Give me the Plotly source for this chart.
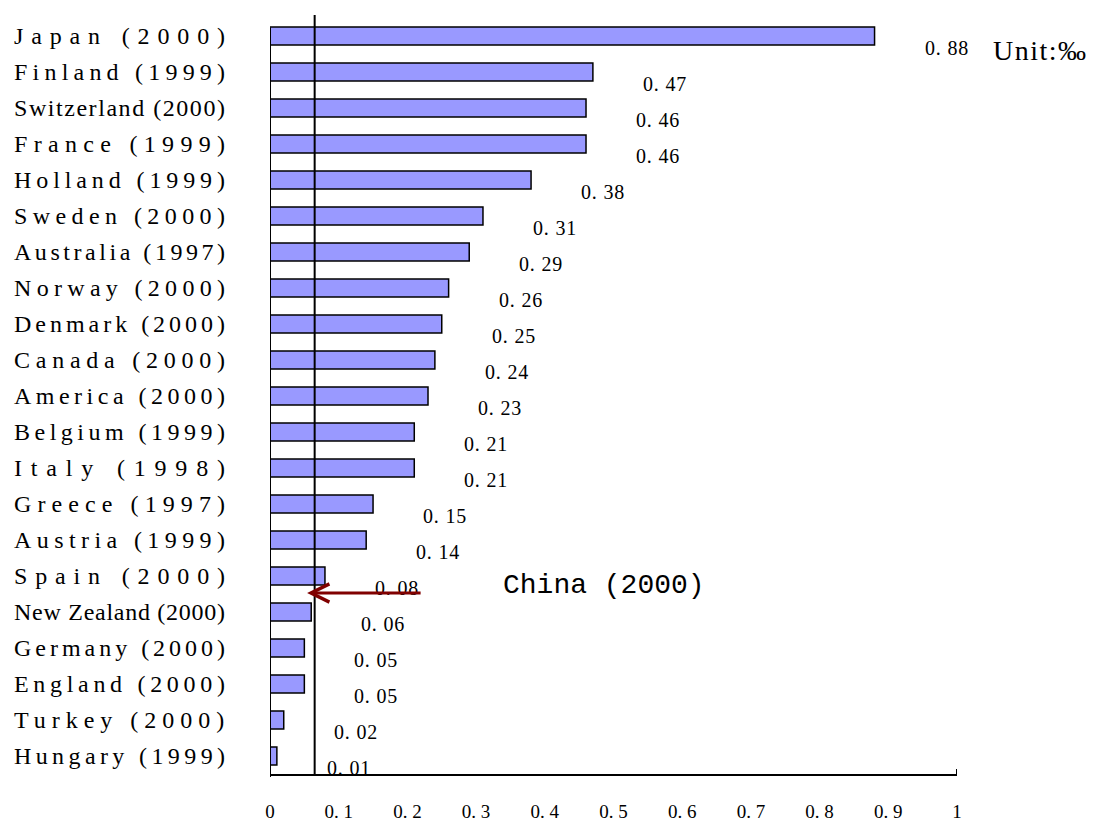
import plotly.graph_objects as go

# Country (survey year) and rate in per mille
categories = [
    "Japan (2000)", "Finland (1999)", "Switzerland (2000)", "France (1999)",
    "Holland (1999)", "Sweden (2000)", "Australia (1997)", "Norway (2000)",
    "Denmark (2000)", "Canada (2000)", "America (2000)", "Belgium (1999)",
    "Italy (1998)", "Greece (1997)", "Austria (1999)", "Spain (2000)",
    "New Zealand (2000)", "Germany (2000)", "England (2000)", "Turkey (2000)",
    "Hungary (1999)",
]
values = [0.88, 0.47, 0.46, 0.46, 0.38, 0.31, 0.29, 0.26, 0.25, 0.24, 0.23,
          0.21, 0.21, 0.15, 0.14, 0.08, 0.06, 0.05, 0.05, 0.02, 0.01]
tick_values = [0, 0.1, 0.2, 0.3, 0.4, 0.5, 0.6, 0.7, 0.8, 0.9, 1]
tick_labels = ["0", "0. 1", "0. 2", "0. 3", "0. 4", "0. 5",
               "0. 6", "0. 7", "0. 8", "0. 9", "1"]
china_value = 0.065
china_label = "China (2000)"
unit_label = "Unit:‰"

SERIF = "Liberation Serif, Times New Roman, serif"
MONO = "Liberation Mono, Courier New, monospace"

# Advance widths (per 1000 em) of Times-metric serif, used to spread the
# category names evenly across a fixed label column.
ADV = {
    "A": 722, "B": 667, "C": 667, "D": 722, "E": 611, "F": 556, "G": 722,
    "H": 722, "I": 333, "J": 389, "N": 722, "S": 556, "T": 611, "U": 722,
    "Z": 611, "a": 444, "b": 500, "c": 444, "d": 500, "e": 444, "g": 500,
    "h": 500, "i": 278, "k": 500, "l": 278, "m": 778, "n": 500, "o": 500,
    "p": 500, "r": 333, "s": 389, "t": 278, "u": 500, "w": 722, "y": 500,
    "z": 444, " ": 250, "(": 333, ")": 333,
}
LABEL_SIZE = 24
LABEL_COLUMN = 211

PLOT_TOP = 18
PLOT_H = 756


def paper_y(px):
    return (PLOT_TOP + PLOT_H - px) / PLOT_H


def justified(text):
    natural = sum(ADV.get(ch, 500) for ch in text) * LABEL_SIZE / 1000
    gap = max(0.0, (LABEL_COLUMN - natural) / (len(text) - 1))
    shown = text.replace(" ", "\u00a0")
    return f'<span style="letter-spacing:{gap:.2f}px">{shown}</span>'


def spaced(text, px):
    shown = text.replace(" ", "\u00a0")
    return f'<span style="letter-spacing:{px}px">{shown}</span>'


fig = go.Figure()
fig.add_trace(go.Bar(
    x=values, y=categories, orientation="h", width=0.5,
    marker=dict(color="#9999FF", line=dict(color="black", width=1.5)),
    hoverinfo="skip",
))

annotations = []
for cat, val in zip(categories, values):
    annotations.append(dict(
        x=-258 / 687, xref="paper", y=cat, yref="y", xanchor="left",
        yanchor="middle", text=justified(cat), showarrow=False,
        font=dict(family=SERIF, size=LABEL_SIZE, color="black"),
    ))
    annotations.append(dict(
        x=val, xref="x", y=cat, yref="y", xanchor="left", yanchor="middle",
        xshift=48, yshift=-12, text=spaced(f"{val:.2f}".replace(".", ". "), 0.8),
        showarrow=False, font=dict(family=SERIF, size=20, color="black"),
    ))

# arrow pointing at the China reference line
annotations.append(dict(
    x=0.054, y=paper_y(593), xref="x", yref="paper",
    ax=115, ay=0, axref="pixel", ayref="pixel",
    text="", showarrow=True, arrowhead=5, arrowsize=1.2, arrowwidth=3,
    arrowcolor="#800000",
))
annotations.append(dict(
    x=(501 - 270) / 687, y=paper_y(585), xref="paper", yref="paper",
    xanchor="left", yanchor="middle", text=china_label.replace(" ", "\u00a0"),
    showarrow=False, font=dict(family=MONO, size=28, color="black"),
))
annotations.append(dict(
    x=(991 - 270) / 687, y=paper_y(50), xref="paper", yref="paper",
    xanchor="left", yanchor="middle", text=spaced(unit_label, 1.5),
    showarrow=False, font=dict(family=SERIF, size=28, color="black"),
))

shapes = [
    # value axis spine on the left
    dict(type="line", xref="x", yref="paper", x0=0, x1=0,
         y0=paper_y(777), y1=paper_y(28), line=dict(color="black", width=2)),
    # end tick at 1
    dict(type="line", xref="x", yref="paper", x0=1, x1=1,
         y0=0, y1=5 / PLOT_H, line=dict(color="black", width=2)),
    # China reference line
    dict(type="line", xref="x", yref="paper", x0=china_value, x1=china_value,
         y0=0, y1=paper_y(15), line=dict(color="black", width=2)),
]

fig.update_layout(
    width=1093, height=823,
    margin=dict(l=270, r=136, t=PLOT_TOP, b=823 - PLOT_TOP - PLOT_H),
    paper_bgcolor="white", plot_bgcolor="white",
    showlegend=False,
    annotations=annotations, shapes=shapes,
    xaxis=dict(
        range=[0, 1], tickvals=tick_values, ticktext=tick_labels,
        showgrid=False, zeroline=False, showline=True, linecolor="black",
        linewidth=2, ticks="", ticklabelstandoff=19, automargin=False,
        tickfont=dict(family=SERIF, size=19, color="black"),
    ),
    yaxis=dict(
        categoryorder="array", categoryarray=categories,
        range=[len(categories) - 0.5, -0.5], showticklabels=False,
        showgrid=False, zeroline=False, showline=False, ticks="",
        automargin=False,
    ),
)

fig.write_html("out.html")
